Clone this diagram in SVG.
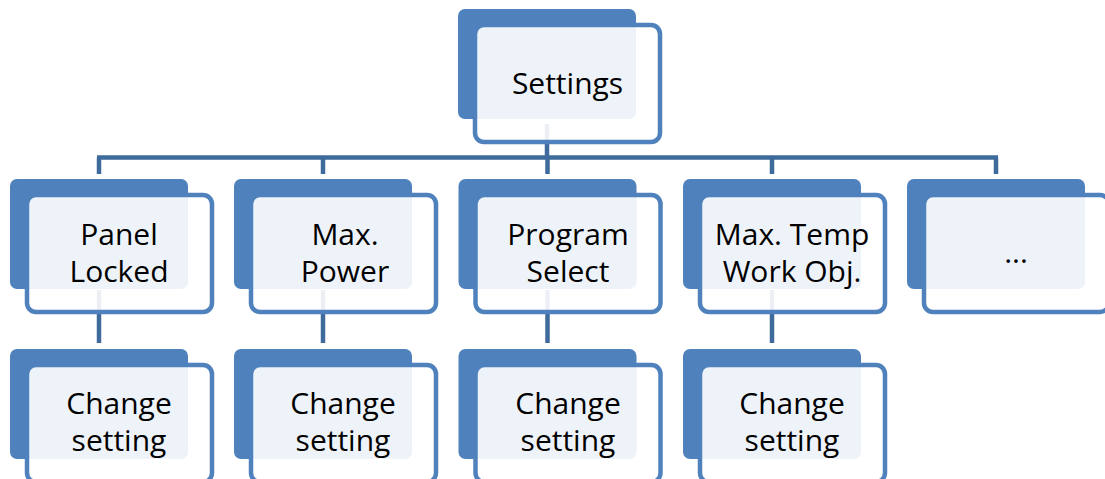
<svg xmlns="http://www.w3.org/2000/svg" width="1105" height="479" viewBox="0 0 1105 479">
<style>
.back{fill:#4F81BD}
.front{fill:#FFFFFF;fill-opacity:0.9;stroke:#4F81BD;stroke-width:4.5}
.lbl{font-family:"Open Sans","Liberation Sans",sans-serif;font-size:30px;fill:#000;text-anchor:middle}
.conn{stroke:#3E6B9C;stroke-width:4.5;fill:none}
</style>
<rect width="1105" height="479" fill="#FFFFFF"/>
<g id="connectors">
<path class="conn" d="M547 124V157.5M97 157.5H998"/>
<path class="conn" d="M99 157.5V174M323 157.5V174M547.5 157.5V174M772 157.5V174M996 157.5V174"/>
<path class="conn" d="M99 290V343M323 290V343M547.5 290V343M772 290V343"/>
</g>
<g id="settings">
<rect class="back" x="458" y="9" width="178" height="110" rx="7"/>
<rect class="front" x="475" y="25" width="185" height="117" rx="9"/>
<text class="lbl" x="567.5" y="94">Settings</text>
</g>
<g id="panel-locked">
<rect class="back" x="10" y="179" width="178" height="110" rx="7"/>
<rect class="front" x="27" y="195" width="185" height="117" rx="9"/>
<text class="lbl" x="119" y="245">Panel</text>
<text class="lbl" x="119" y="282">Locked</text>
</g>
<g id="max-power">
<rect class="back" x="234" y="179" width="178" height="110" rx="7"/>
<rect class="front" x="251" y="195" width="185" height="117" rx="9"/>
<text class="lbl" x="345" y="245">Max.</text>
<text class="lbl" x="345" y="282">Power</text>
</g>
<g id="program-select">
<rect class="back" x="458.5" y="179" width="178" height="110" rx="7"/>
<rect class="front" x="475.5" y="195" width="185" height="117" rx="9"/>
<text class="lbl" x="568" y="245">Program</text>
<text class="lbl" x="568" y="282">Select</text>
</g>
<g id="max-temp">
<rect class="back" x="683" y="179" width="178" height="110" rx="7"/>
<rect class="front" x="700" y="195" width="185" height="117" rx="9"/>
<text class="lbl" x="792" y="245">Max. Temp</text>
<text class="lbl" x="792" y="282">Work Obj.</text>
</g>
<g id="more">
<rect class="back" x="907" y="179" width="178" height="110" rx="7"/>
<rect class="front" x="924" y="195" width="185" height="117" rx="9"/>
<text class="lbl" x="1016" y="263">...</text>
</g>
<g id="change-1">
<rect class="back" x="10" y="349" width="178" height="110" rx="7"/>
<rect class="front" x="27" y="365" width="185" height="117" rx="9"/>
<text class="lbl" x="119" y="414">Change</text>
<text class="lbl" x="119" y="451">setting</text>
</g>
<g id="change-2">
<rect class="back" x="234" y="349" width="178" height="110" rx="7"/>
<rect class="front" x="251" y="365" width="185" height="117" rx="9"/>
<text class="lbl" x="343" y="414">Change</text>
<text class="lbl" x="343" y="451">setting</text>
</g>
<g id="change-3">
<rect class="back" x="458.5" y="349" width="178" height="110" rx="7"/>
<rect class="front" x="475.5" y="365" width="185" height="117" rx="9"/>
<text class="lbl" x="568" y="414">Change</text>
<text class="lbl" x="568" y="451">setting</text>
</g>
<g id="change-4">
<rect class="back" x="683" y="349" width="178" height="110" rx="7"/>
<rect class="front" x="700" y="365" width="185" height="117" rx="9"/>
<text class="lbl" x="792" y="414">Change</text>
<text class="lbl" x="792" y="451">setting</text>
</g>
</svg>
